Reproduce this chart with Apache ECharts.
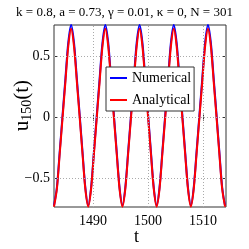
<!DOCTYPE html>
<html><head><meta charset="utf-8">
<script src="https://cdn.jsdelivr.net/npm/echarts@6/dist/echarts.min.js"></script>
<style>html,body{margin:0;padding:0;background:#fff}#c{width:249px;height:249px}</style>
</head><body><div id="c"></div>
<script>
const titleText = 'k = 0.8, a = 0.73, \u03b3 = 0.01, \u03ba = 0, N = 301';
const xTicks = [1490, 1500, 1510];
const yTicks = [-0.5, 0, 0.5];
const t = [1482.88,1483.40,1483.92,1484.44,1484.96,1485.48,1486.00,1486.52,1487.04,1487.56,1488.07,1488.59,
1489.11,1489.63,1490.15,1490.67,1491.19,1491.71,1492.23,1492.75,1493.27,1493.79,1494.30,1494.82,
1495.34,1495.86,1496.38,1496.90,1497.42,1497.94,1498.46,1498.98,1499.50,1500.02,1500.53,1501.05,
1501.57,1502.09,1502.61,1503.13,1503.65,1504.17,1504.69,1505.21,1505.73,1506.25,1506.76,1507.28,
1507.80,1508.32,1508.84,1509.36,1509.88,1510.40,1510.92,1511.44,1511.96,1512.48,1512.99,1513.51,1514.03];
const numerical = [-0.72,-0.575,-0.28,0.02,0.32,0.615,0.76,0.615,0.32,0.02,-0.28,-0.575,
-0.72,-0.575,-0.28,0.02,0.32,0.615,0.76,0.615,0.32,0.02,-0.28,-0.575,
-0.72,-0.575,-0.28,0.02,0.32,0.615,0.76,0.615,0.32,0.02,-0.28,-0.575,
-0.72,-0.575,-0.28,0.02,0.32,0.615,0.76,0.615,0.32,0.02,-0.28,-0.575,
-0.72,-0.575,-0.28,0.02,0.32,0.615,0.76,0.615,0.32,0.02,-0.28,-0.575,-0.72];
const analytical = [-0.73,-0.587,-0.296,0,0.296,0.587,0.73,0.587,0.296,0,-0.296,-0.587,
-0.73,-0.587,-0.296,0,0.296,0.587,0.73,0.587,0.296,0,-0.296,-0.587,
-0.73,-0.587,-0.296,0,0.296,0.587,0.73,0.587,0.296,0,-0.296,-0.587,
-0.73,-0.587,-0.296,0,0.296,0.587,0.73,0.587,0.296,0,-0.296,-0.587,
-0.73,-0.587,-0.296,0,0.296,0.587,0.73,0.587,0.296,0,-0.296,-0.587,-0.73];

const F = 'Liberation Serif, Times New Roman, serif';
const pair = (xs, ys) => xs.map((x, i) => [x, ys[i]]);
const axCol = '#333';
function xAx(pos, labels) {
  return { type: 'value', position: pos, min: 1482.88, max: 1514.2,
    axisLine: { show: false },
    axisTick: { show: true, inside: true, length: 3, customValues: xTicks, lineStyle: { color: axCol } },
    axisLabel: { show: labels, customValues: xTicks, margin: 7, fontFamily: F, fontSize: 14, color: '#000',
      formatter: v => String(v) },
    splitLine: { show: false } };
}
function yAx(pos, labels) {
  return { type: 'value', position: pos, min: -0.733, max: 0.76,
    axisLine: { show: false },
    axisTick: { show: true, inside: true, length: 3, customValues: yTicks, lineStyle: { color: axCol } },
    axisLabel: { show: labels, customValues: yTicks, margin: 4, fontFamily: F, fontSize: 14, color: '#000',
      formatter: v => v === 0 ? '0' : (v < 0 ? '\u2212' + Math.abs(v) : String(v)) },
    splitLine: { show: false } };
}
const chart = echarts.init(document.getElementById('c'), null, { renderer: 'canvas' });
chart.setOption({
  animation: false,
  backgroundColor: '#fff',
  title: { text: titleText, left: 'center', top: 1,
    textStyle: { fontFamily: F, fontSize: 13, fontWeight: 'normal', color: '#000' } },
  grid: { left: 54, right: 23, top: 25, bottom: 42, show: true, borderColor: axCol, borderWidth: 1, backgroundColor: 'transparent' },
  xAxis: [xAx('bottom', true), xAx('top', false)],
  yAxis: [yAx('left', true), yAx('right', false)],
  legend: { orient: 'vertical', left: 106, top: 67, padding: [4, 3, 4, 4], itemWidth: 17, itemHeight: 2, itemGap: 8,
    icon: 'rect', z: 10,
    backgroundColor: '#fff', borderColor: axCol, borderWidth: 1,
    textStyle: { fontFamily: F, fontSize: 14, color: '#000', lineHeight: 14 },
    data: ['Numerical', 'Analytical'] },
  graphic: [{ type: 'text', left: 12, top: 80, rotation: Math.PI / 2,
    style: { text: '{u|u}{s|150}{u|(t)}', fill: '#000',
      rich: { u: { fontFamily: F, fontSize: 21, fill: '#000' }, s: { fontFamily: F, fontSize: 14, fill: '#000', padding: [10, 0, 0, 0] } } } },
    { type: 'text', left: 134, top: 228, style: { text: 't', font: '18px ' + F, fill: '#000' } }],
  series: [
    { type: 'line', name: 'grid', data: [[1490, 0]], symbol: 'none', lineStyle: { opacity: 0 }, z: 1, silent: true,
      markLine: { silent: true, symbol: 'none', label: { show: false },
        lineStyle: { type: [1, 2], color: '#aaa', width: 1 },
        data: xTicks.map(v => ({ xAxis: v })).concat(yTicks.map(v => ({ yAxis: v }))) } },
    { type: 'line', name: 'Numerical', data: pair(t, numerical), symbol: 'none', smooth: 0.3,
      lineStyle: { color: '#0000ff', width: 2 }, itemStyle: { color: '#0000ff' }, z: 2 },
    { type: 'line', name: 'Analytical', data: pair(t, analytical), symbol: 'none', smooth: 0.3,
      lineStyle: { color: '#ff0000', width: 2 }, itemStyle: { color: '#ff0000' }, z: 3 }
  ]
});
</script></body></html>
